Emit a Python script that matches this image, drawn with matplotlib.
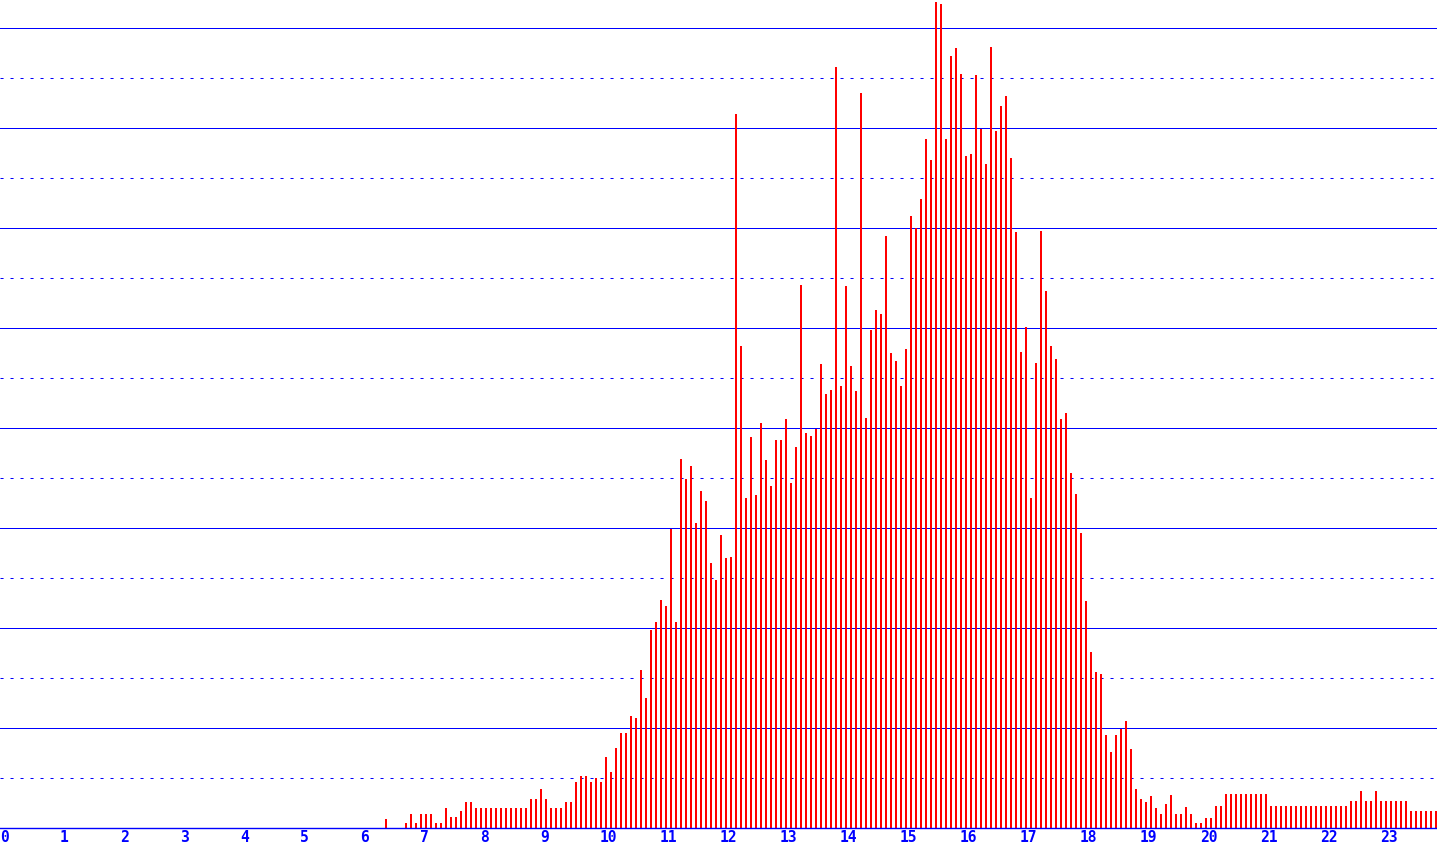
import numpy as np
import matplotlib
matplotlib.use("Agg")
import matplotlib.pyplot as plt

# bar heights per 5-minute bin (12 bins per hour)
# hours 0-5 are empty
counts_06 = [0, 0, 0, 0, 9, 0, 0, 0, 5, 14, 5, 14]
counts_07 = [14, 14, 5, 5, 20, 11, 11, 17, 26, 26, 20, 20]
counts_08 = [20, 20, 20, 20, 20, 20, 20, 20, 20, 29, 29, 39]
counts_09 = [29, 20, 20, 20, 26, 26, 46, 52, 52, 46, 50, 46]
counts_10 = [71, 56, 80, 95, 95, 112, 110, 158, 130, 198, 206, 228]
counts_11 = [222, 299, 206, 369, 349, 362, 305, 337, 327, 265, 248, 293]
counts_12 = [270, 271, 714, 482, 330, 391, 333, 405, 368, 342, 388, 388]
counts_13 = [409, 345, 381, 543, 395, 392, 399, 464, 434, 438, 761, 442]
counts_14 = [542, 462, 437, 735, 410, 498, 518, 514, 592, 475, 467, 442]
counts_15 = [479, 612, 600, 629, 689, 668, 826, 824, 689, 772, 780, 754]
counts_16 = [672, 674, 753, 699, 664, 781, 697, 722, 732, 670, 596, 476]
counts_17 = [501, 330, 465, 597, 537, 482, 469, 409, 415, 355, 334, 295]
counts_18 = [227, 176, 156, 154, 93, 76, 93, 99, 107, 79, 39, 29]
counts_19 = [26, 32, 20, 14, 24, 33, 14, 14, 21, 14, 5, 5]
counts_20 = [10, 10, 22, 22, 34, 34, 34, 34, 34, 34, 34, 34]
counts_21 = [34, 22, 22, 22, 22, 22, 22, 22, 22, 22, 22, 22]
counts_22 = [22, 22, 22, 22, 22, 27, 27, 37, 27, 27, 37, 27]
counts_23 = [27, 27, 27, 27, 27, 17, 17, 17, 17, 17, 17, 17]

hour_labels = [str(h) for h in range(24)]

counts = [0] * 72 + counts_06 + counts_07 + counts_08 + counts_09 + counts_10 \
    + counts_11 + counts_12 + counts_13 + counts_14 + counts_15 + counts_16 \
    + counts_17 + counts_18 + counts_19 + counts_20 + counts_21 + counts_22 + counts_23

BLUE = '#0000ff'
RED = '#ff0000'
px = 1 / 60.0   # one pixel in hours

plt.rcParams['lines.scale_dashes'] = False

fig = plt.figure(figsize=(14.37, 8.48), dpi=100)
ax = fig.add_axes([0, 20 / 848, 1, 828 / 848])
ax.set_xlim(-4 * px, 1433 * px)
ax.set_ylim(0, 828)
ax.axis('off')

# grid: solid every 100, dotted in between
for y in range(100, 900, 100):
    ax.axhline(y, color=BLUE, lw=0.72, zorder=1)
for y in range(50, 800, 100):
    ax.axhline(y, color=BLUE, lw=0.72, linestyle=(0, (2.2, 5.0)), zorder=1)
ax.axhline(0, color=BLUE, lw=1.0, zorder=4, clip_on=False)

x = np.arange(len(counts)) / 12.0 + px
ax.bar(x, counts, width=2 * px, align='edge', color=RED, linewidth=0,
       antialiased=False, zorder=3)

for h, lab in enumerate(hour_labels):
    ax.text(h - 4 * px, -1.5, lab, ha='left', va='top', color=BLUE,
            family='DejaVu Sans Mono', fontweight='bold', fontsize=10.5,
            clip_on=False)

fig.savefig('out.png', dpi=100)
